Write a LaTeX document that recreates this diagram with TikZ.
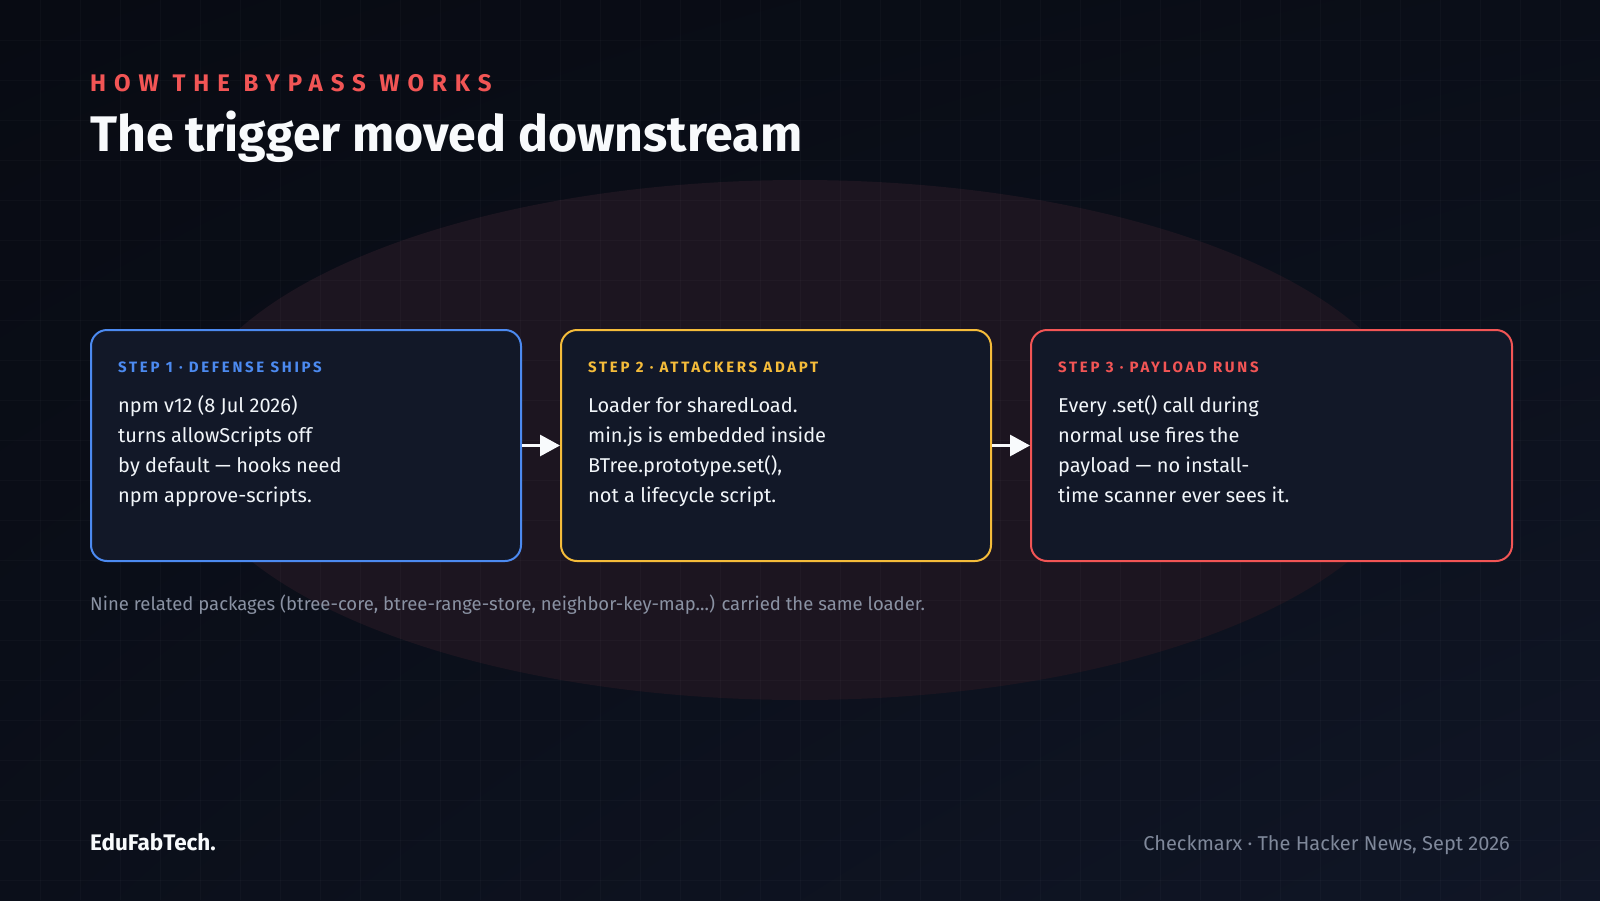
\documentclass[tikz,border=0pt]{standalone}
\usepackage{fontspec}
\setmainfont{Fira Sans}
\usetikzlibrary{arrows.meta,shadings}
\definecolor{bgUL}{HTML}{080B13}
\definecolor{bgUR}{HTML}{0A0E18}
\definecolor{bgLL}{HTML}{0B0F1A}
\definecolor{bgLR}{HTML}{101626}
\definecolor{glow}{HTML}{1C1520}
\definecolor{boxfill}{HTML}{121828}
\definecolor{blueA}{HTML}{4C8AF0}
\definecolor{yellowA}{HTML}{F5BC3A}
\definecolor{redA}{HTML}{F25555}
\definecolor{bodytext}{HTML}{F1F5F9}
\definecolor{titletext}{HTML}{F8FAFC}
\definecolor{notetext}{HTML}{8A92A3}
\definecolor{foottext}{HTML}{7F889A}
\begin{document}
\begin{tikzpicture}[x=1pt,y=-1pt,
  stepbox/.style={draw, line width=2pt, rounded corners=16pt, fill=boxfill,
    minimum width=#1, minimum height=231pt, inner sep=0pt, anchor=north west},
  steplabel/.style={anchor=base west, inner sep=0pt,
    font=\fontsize{15}{18}\selectfont\bfseries\addfontfeatures{LetterSpace=18}},
  bodyline/.style={anchor=base west, inner sep=0pt, text=bodytext,
    font=\fontsize{20}{24}\selectfont},
  flowarrow/.style={draw=titletext, fill=titletext, line width=3pt,
    -{Triangle[length=20pt,width=21pt]}},
  gridline/.style={draw=white, draw opacity=0.022, line width=1pt}
]
\useasboundingbox (0,0) rectangle (1600,900);
% background
\shade[upper left=bgUL, upper right=bgUR, lower left=bgLL, lower right=bgLR]
  (0,0) rectangle (1600,900);
% glow ellipse
\fill[glow] (800,440) ellipse [x radius=620, y radius=260];
% grid
\foreach \gx in {40,80,...,1560} {\path[gridline] (\gx,0) -- (\gx,900);}
\foreach \gy in {40,80,...,880} {\path[gridline] (0,\gy) -- (1600,\gy);}

% header
\node[anchor=base west, inner sep=0pt, text=redA,
  font=\fontsize{24}{28}\selectfont\bfseries\addfontfeatures{LetterSpace=33}]
  (kicker) at (90,91) {HOW THE BYPASS WORKS};
\node[anchor=base west, inner sep=0pt, text=titletext,
  font=\fontsize{50}{58}\selectfont\bfseries]
  (title) at (90,151) {The trigger moved downstream};

% boxes
\node[stepbox=430pt, draw=blueA] (box1) at (90,329) {};
\node[stepbox=430pt, draw=yellowA] (box2) at (560,329) {};
\node[stepbox=481pt, draw=redA] (box3) at (1030,329) {};

% box 1 text
\node[steplabel, text=blueA] (l1) at ([shift={(28,43)}]box1.north west) {STEP 1 · DEFENSE SHIPS};
\node[bodyline] (b11) at ([shift={(28,83)}]box1.north west) {npm v12 (8 Jul 2026)};
\node[bodyline] (b12) at ([shift={(28,113)}]box1.north west) {turns allowScripts off};
\node[bodyline] (b13) at ([shift={(28,143)}]box1.north west) {by default — hooks need};
\node[bodyline] (b14) at ([shift={(28,173)}]box1.north west) {npm approve-scripts.};

% box 2 text
\node[steplabel, text=yellowA] (l2) at ([shift={(28,43)}]box2.north west) {STEP 2 · ATTACKERS ADAPT};
\node[bodyline] (b21) at ([shift={(28,83)}]box2.north west) {Loader for sharedLoad.};
\node[bodyline] (b22) at ([shift={(28,113)}]box2.north west) {min.js is embedded inside};
\node[bodyline] (b23) at ([shift={(28,143)}]box2.north west) {BTree.prototype.set(),};
\node[bodyline] (b24) at ([shift={(28,173)}]box2.north west) {not a lifecycle script.};

% box 3 text
\node[steplabel, text=redA] (l3) at ([shift={(28,43)}]box3.north west) {STEP 3 · PAYLOAD RUNS};
\node[bodyline] (b31) at ([shift={(28,83)}]box3.north west) {Every .set() call during};
\node[bodyline] (b32) at ([shift={(28,113)}]box3.north west) {normal use fires the};
\node[bodyline] (b33) at ([shift={(28,143)}]box3.north west) {payload — no install-};
\node[bodyline] (b34) at ([shift={(28,173)}]box3.north west) {time scanner ever sees it.};

% arrows
\draw[flowarrow] (box1.east) -- (box2.west);
\draw[flowarrow] (box2.east) -- (box3.west);

% note
\node[anchor=base west, inner sep=0pt, text=notetext, font=\fontsize{18.5}{22}\selectfont]
  (note) at (90,610) {Nine related packages (btree-core, btree-range-store, neighbor-key-map...) carried the same loader.};

% footer
\node[anchor=base west, inner sep=0pt, text=titletext, font=\fontsize{22.5}{26}\selectfont\bfseries]
  (brand) at (90,850) {EduFabTech.};
\node[anchor=base east, inner sep=0pt, text=foottext, font=\fontsize{20}{24}\selectfont]
  (source) at (1510,850) {Checkmarx · The Hacker News, Sept 2026};
\end{tikzpicture}
\end{document}
